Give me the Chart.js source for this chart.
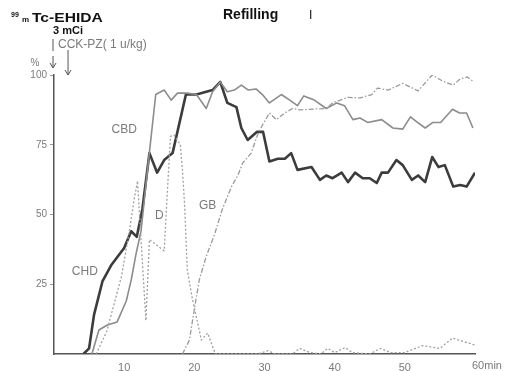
<!DOCTYPE html>
<html>
<head>
<meta charset="utf-8">
<script src="https://cdn.jsdelivr.net/npm/chart.js@4"></script>
<style>
  html, body { margin: 0; padding: 0; background: #fff; }
  #wrap { width: 508px; height: 371px; }
</style>
</head>
<body>
<div id="wrap"><canvas id="chart" width="508" height="371"></canvas></div>
<script>
// minutes / percent
const tCHD = [4.2, 5.0, 5.7, 6.9, 8.2, 10.0, 11.0, 11.8, 12.6, 13.6, 14.7, 15.7, 16.9, 18.8, 20.3, 22.6, 23.7, 24.7, 26.0, 26.7, 27.6, 28.9, 29.8, 30.7, 31.9, 32.9, 33.8, 34.7, 36.7, 37.9, 38.8, 39.7, 41.0, 41.9, 42.9, 44.0, 45.0, 46.0, 46.7, 47.6, 48.8, 49.7, 51.0, 51.9, 52.9, 53.9, 54.8, 55.7, 56.9, 57.9, 58.8, 60.0];
const vCHD = [0, 2, 14, 26, 32, 38, 44, 42, 52, 72, 65, 69.5, 72, 93, 93, 94.6, 97.5, 90, 88.5, 81, 76.7, 79.6, 79.6, 69, 70, 70, 72, 66, 67, 62.4, 64, 63, 65, 61.6, 65, 63, 63, 61.3, 65, 65, 69.5, 67.7, 62.4, 64, 61.6, 70.6, 67, 67.7, 60, 60.6, 60, 65];

const tCBD = [5.4, 6.4, 7.6, 9.0, 10.3, 11.0, 11.7, 12.4, 13.5, 14.5, 15.7, 16.7, 17.6, 19.0, 20.3, 21.7, 22.6, 23.7, 24.7, 25.7, 26.7, 27.7, 28.8, 29.7, 30.7, 32.4, 33.6, 34.7, 35.6, 37.1, 38.8, 40.3, 41.4, 42.6, 43.6, 44.7, 46.7, 48.3, 49.7, 50.8, 51.8, 52.9, 54.0, 55.1, 56.8, 57.8, 58.8, 59.7];
const vCBD = [0, 8.6, 10.4, 11.5, 19, 26.5, 36, 44, 70, 93, 94.6, 91, 93.5, 93.5, 93, 88, 94, 97.5, 94, 94.6, 96.4, 94.6, 95, 93, 90, 93, 91, 89, 92.5, 91, 88, 90, 89, 84, 84.6, 83, 84, 81, 80.6, 85, 83, 81, 83, 83, 87.7, 86.4, 86.4, 81];

const tD = [6.0, 7.5, 9.6, 10.8, 11.4, 11.9, 13.1, 13.6, 15.7, 16.2, 16.6, 17.1, 18.0, 18.3, 18.6, 19.0, 19.7, 21.0, 21.9, 23.0, 29.0, 30.5, 31.5, 34.0, 35.0, 36.5, 38.0, 39.0, 40.0, 41.5, 42.5, 45.0, 46.5, 48.0, 50.0, 52.5, 55.0, 56.8, 60.0];
const vD = [0, 8, 27.6, 45, 55, 62, 12, 41, 37, 60, 78, 78.5, 75, 66, 54, 30, 20, 5, 7.5, 0, 0, 1.2, 0, 0, 2, 0.5, 0, 2, 0.5, 2.3, 0.5, 0, 2, 0.5, 0.5, 3, 2, 5.7, 3.2];

const tGB = [18.3, 19.3, 20.0, 20.7, 21.7, 22.9, 24.0, 25.3, 26.2, 26.9, 28.1, 29.0, 29.7, 30.7, 31.7, 32.9, 34.0, 35.0, 37.0, 38.8, 39.7, 41.9, 43.6, 45.3, 46.1, 47.6, 49.7, 51.9, 53.9, 55.4, 56.9, 57.9, 58.9, 59.7];
const vGB = [0, 5, 16, 26.5, 35, 43, 52, 60, 64, 68.5, 72, 78.5, 82, 86.4, 84, 86.4, 88, 87.5, 87.8, 88, 90, 92, 91.8, 93, 95.3, 94.6, 97, 94.3, 100, 97.8, 96.4, 98.6, 99.3, 97.8];

const xTicks = [10, 20, 30, 40, 50, 60];
const yTicks = [25, 50, 75, 100];

const curveLabels = [
  { text: "CHD", t: 4.4, v: 29.5 },
  { text: "CBD", t: 10.0, v: 80.5 },
  { text: "D", t: 15.0, v: 49.5 },
  { text: "GB", t: 21.9, v: 53 }
];

function pts(ts, vs) {
  return ts.map((t, i) => ({ x: t, y: vs[i] }));
}

const gray = "#7a7a7a";

const notes = {
  id: "notes",
  afterDraw(chart) {
    const c = chart.ctx;
    const xs = chart.scales.x, ys = chart.scales.y;
    const x0 = xs.getPixelForValue(0);
    c.save();

    // title
    c.fillStyle = "#111";
    c.font = "bold 14px 'Liberation Sans', Arial, sans-serif";
    c.textBaseline = "alphabetic";
    c.fillText("Refilling", 223, 19);
    c.fillStyle = "#333";
    c.fillRect(310, 10, 1.3, 9);

    // tracer note
    c.fillStyle = "#111";
    c.font = "bold 7px 'Liberation Sans', Arial, sans-serif";
    c.fillText("99", 11, 17);
    c.font = "bold 8px 'Liberation Sans', Arial, sans-serif";
    c.fillText("m", 22, 22);
    c.save();
    c.font = "bold 12px 'Liberation Sans', Arial, sans-serif";
    c.translate(32, 22);
    c.scale(1.3, 1);
    c.fillText("Tc-EHIDA", 0, 0);
    c.restore();
    c.font = "bold 11px 'Liberation Sans', Arial, sans-serif";
    c.fillText("3 mCi", 53, 34);

    c.fillStyle = gray;
    c.font = "12px 'Liberation Sans', Arial, sans-serif";
    c.fillText("CCK-PZ( 1 u/kg)", 58, 48);

    // markers / arrows
    c.strokeStyle = "#555";
    c.fillStyle = "#555";
    c.lineWidth = 1;
    function arrow(x, y1, y2) {
      c.beginPath();
      c.moveTo(x, y1); c.lineTo(x, y2);
      c.stroke();
      c.beginPath();
      c.moveTo(x - 3, y2 - 5); c.lineTo(x, y2); c.lineTo(x + 3, y2 - 5);
      c.stroke();
    }
    c.beginPath();
    c.moveTo(x0 - 1, 39); c.lineTo(x0 - 1, 51);
    c.stroke();
    arrow(x0 - 1, 56, 68);
    arrow(xs.getPixelForValue(2), 50, 75);

    // y unit
    c.fillStyle = gray;
    c.font = "10px 'Liberation Sans', Arial, sans-serif";
    c.textAlign = "center";
    c.fillText("%", 35, 66);

    // x unit with last tick
    c.font = "11px 'Liberation Sans', Arial, sans-serif";
    c.textAlign = "left";
    c.textBaseline = "middle";
    c.fillText("60min", xs.getPixelForValue(60) - 3, 366);

    // curve names
    c.font = "12px 'Liberation Sans', Arial, sans-serif";
    c.textAlign = "center";
    curveLabels.forEach(l => {
      c.fillText(l.text, xs.getPixelForValue(l.t), ys.getPixelForValue(l.v));
    });
    c.restore();
  }
};

new Chart(document.getElementById("chart"), {
  type: "line",
  data: {
    datasets: [
      { label: "GB", data: pts(tGB, vGB), borderColor: "#9a9a9a", borderWidth: 1.3, borderDash: [5, 2, 1.5, 2] },
      { label: "D", data: pts(tD, vD), borderColor: "#a0a0a0", borderWidth: 1.3, borderDash: [2, 2] },
      { label: "CBD", data: pts(tCBD, vCBD), borderColor: "#8c8c8c", borderWidth: 1.6 },
      { label: "CHD", data: pts(tCHD, vCHD), borderColor: "#3c3c3c", borderWidth: 2.6 }
    ]
  },
  options: {
    responsive: false,
    animation: false,
    elements: { point: { radius: 0 }, line: { tension: 0, borderJoinStyle: "round" } },
    layout: { padding: { top: 75, right: 33, left: 0, bottom: 0 } },
    plugins: { legend: { display: false }, tooltip: { enabled: false } },
    scales: {
      x: {
        type: "linear", min: 0, max: 60,
        afterBuildTicks: s => { s.ticks = xTicks.map(v => ({ value: v })); },
        afterFit: s => { s.height = 17; },
        grid: { display: true, drawOnChartArea: false, tickLength: 0 },
        border: { display: true, color: "#555", width: 1.5 },
        ticks: {
          color: gray, padding: 7,
          font: { family: "'Liberation Sans', Arial, sans-serif", size: 11 },
          callback: v => (v === 60 ? "" : v)
        }
      },
      y: {
        type: "linear", min: 0, max: 100,
        afterBuildTicks: s => { s.ticks = yTicks.map(v => ({ value: v })); },
        afterFit: s => { s.width = 54; },
        grid: { display: true, drawOnChartArea: false, tickLength: 4, color: "#999" },
        border: { display: true, color: "#555", width: 1.5 },
        ticks: {
          color: gray, padding: 3,
          font: { family: "'Liberation Sans', Arial, sans-serif", size: 10 }
        }
      }
    }
  },
  plugins: [notes]
});
</script>
</body>
</html>
